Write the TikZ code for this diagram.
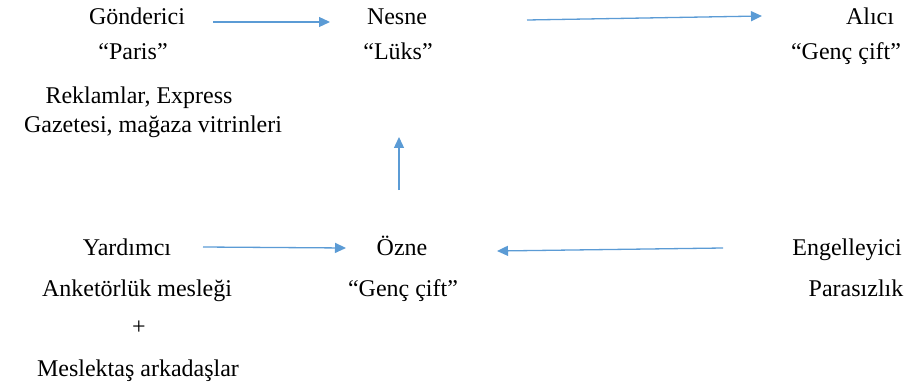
\documentclass[tikz,border=0pt]{standalone}
\usepackage{fontspec}
\setmainfont{Liberation Serif}
\usetikzlibrary{arrows.meta}
\definecolor{arrblue}{HTML}{5B9BD5}
\begin{document}
\begin{tikzpicture}[x=1pt,y=-1pt,
  lbl/.style={anchor=base,inner sep=0pt,font=\fontsize{24}{28}\selectfont},
  arr/.style={draw=arrblue,line width=1.3pt,-{Triangle[length=11pt,width=10pt]}}]
\useasboundingbox (0,0) rectangle (913,385);
% top row
\node[lbl] (gond) at (137,25) {Gönderici};
\node[lbl] (paris) at (133,60) {“Paris”};
\node[lbl] (rek1) at (139,104) {Reklamlar, Express};
\node[lbl] (rek2) at (153,132) {Gazetesi, mağaza vitrinleri};
\node[lbl] (nesne) at (397,25) {Nesne};
\node[lbl] (luks) at (398,60) {“Lüks”};
\node[lbl] (alici) at (870,25) {Alıcı};
\node[lbl] (genc1) at (846,60) {“Genç çift”};
% bottom row
\node[lbl] (yard) at (127,255) {Yardımcı};
\node[lbl] (anket) at (137,296) {Anketörlük mesleği};
\node[lbl] (plus) at (139,334) {+};
\node[lbl] (mesl) at (138,376) {Meslektaş arkadaşlar};
\node[lbl] (ozne) at (402,255) {Özne};
\node[lbl] (genc2) at (403,296) {“Genç çift”};
\node[lbl] (engel) at (847,255) {Engelleyici};
\node[lbl] (para) at (856,296) {Parasızlık};
% arrow ends
\coordinate (a1s) at (213,22);
\coordinate (a1e) at (330,22);
\coordinate (a2s) at (527,20);
\coordinate (a2e) at (762,16);
\coordinate (a3s) at (399,190);
\coordinate (a3e) at (399,137);
\coordinate (a4s) at (723,248);
\coordinate (a4e) at (497,251);
\coordinate (a5s) at (203,247);
\coordinate (a5e) at (346,248);
\draw[arr] (a1s) -- (a1e);
\draw[arr] (a2s) -- (a2e);
\draw[arr] (a3s) -- (a3e);
\draw[arr] (a4s) -- (a4e);
\draw[arr] (a5s) -- (a5e);
\end{tikzpicture}
\end{document}
